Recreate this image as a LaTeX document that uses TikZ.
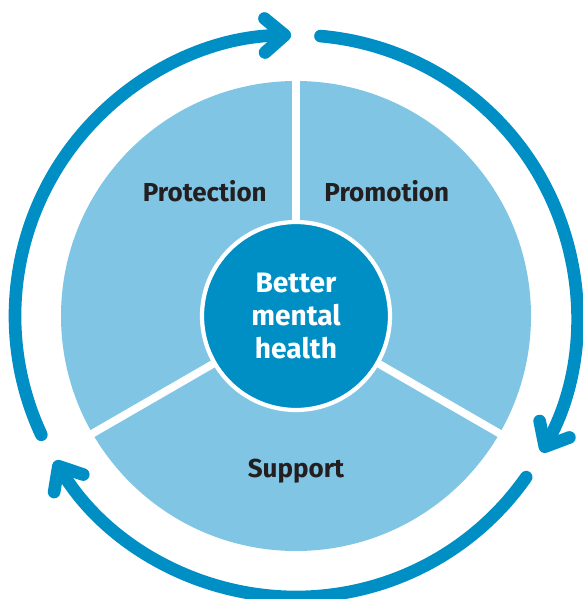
\documentclass[tikz,border=0pt]{standalone}
\usepackage{fontspec}
\setmainfont{Fira Sans}
\usetikzlibrary{arrows.meta}
\definecolor{ringblue}{RGB}{0,143,197}
\definecolor{sectorblue}{RGB}{128,198,228}
\definecolor{labelgray}{RGB}{35,31,32}
\tikzstyle{cyclearrow} = [ringblue,line width=9pt,line cap=round,-{Straight Barb[round,length=0.5cm,width=0.85cm]}]
\tikzstyle{divider} = [white,line width=5.5pt]
\tikzstyle{sectorlabel} = [text=labelgray,font=\bfseries\fontsize{18.5}{22}\selectfont]
\begin{document}
\begin{tikzpicture}
      \useasboundingbox(-7.4,-7.075)rectangle(7.175,7.9);
      \fill[sectorblue](0,0)circle(5.875);
      \foreach \a in {90,210,330}
        \draw[divider](0,0)--(\a:5.95);
      \node[circle,fill=ringblue,draw=white,line width=3pt,minimum size=4.7cm,inner sep=0pt,text=white,align=center,font=\bfseries\fontsize{20}{23.5}\selectfont](core)at(0,0){Better\\mental\\health};
      \node[sectorlabel](protection)at(-2.28,3.12){Protection};
      \node[sectorlabel](promotion)at(2.27,3.12){Promotion};
      \node[sectorlabel](support)at(0,-3.87){Support};
      % cycle around the wheel
      \foreach \s/\e in {205/91,85/-29,-35/-149}
        \draw[cyclearrow](\s:7.025)arc[start angle=\s,end angle=\e,radius=7.025];
    \end{tikzpicture}
\end{document}
